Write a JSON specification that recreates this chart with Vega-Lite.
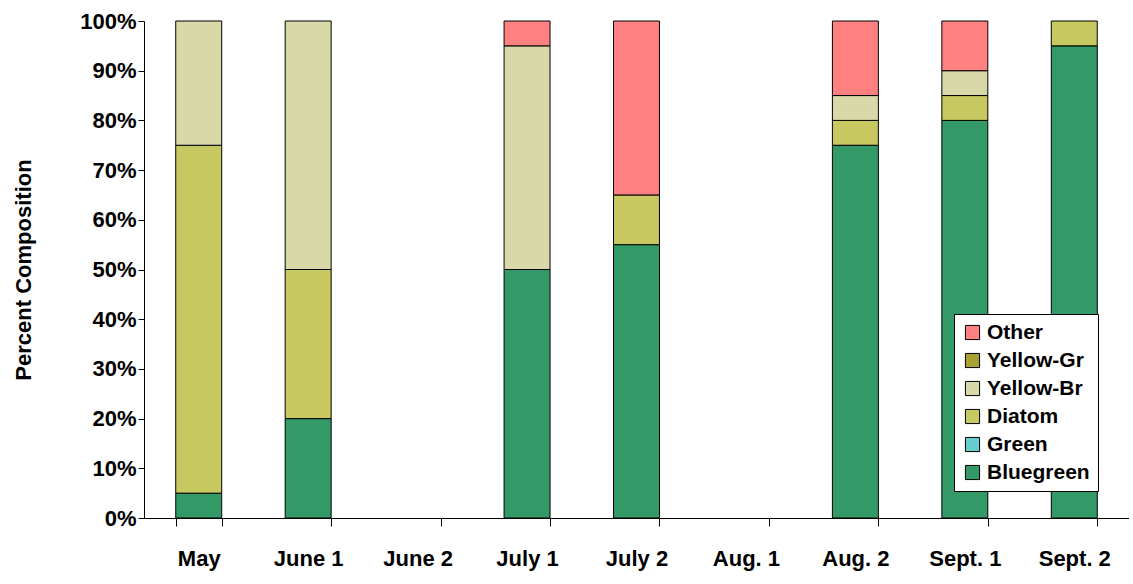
{
  "$schema": "https://vega.github.io/schema/vega-lite/v6.json",
  "width": 985,
  "height": 497,
  "padding": {"left": 12, "top": 10, "right": 0, "bottom": 5},
  "config": {"font": "Liberation Sans", "view": {"stroke": null}},
  "data": {
    "values": [
      {"period": "May", "group": "Bluegreen", "pct": 5},
      {"period": "May", "group": "Diatom", "pct": 70},
      {"period": "May", "group": "Yellow-Br", "pct": 25},
      {"period": "June 1", "group": "Bluegreen", "pct": 20},
      {"period": "June 1", "group": "Diatom", "pct": 30},
      {"period": "June 1", "group": "Yellow-Br", "pct": 50},
      {"period": "July 1", "group": "Bluegreen", "pct": 50},
      {"period": "July 1", "group": "Yellow-Br", "pct": 45},
      {"period": "July 1", "group": "Other", "pct": 5},
      {"period": "July 2", "group": "Bluegreen", "pct": 55},
      {"period": "July 2", "group": "Diatom", "pct": 10},
      {"period": "July 2", "group": "Other", "pct": 35},
      {"period": "Aug. 2", "group": "Bluegreen", "pct": 75},
      {"period": "Aug. 2", "group": "Diatom", "pct": 5},
      {"period": "Aug. 2", "group": "Yellow-Br", "pct": 5},
      {"period": "Aug. 2", "group": "Other", "pct": 15},
      {"period": "Sept. 1", "group": "Bluegreen", "pct": 80},
      {"period": "Sept. 1", "group": "Diatom", "pct": 5},
      {"period": "Sept. 1", "group": "Yellow-Br", "pct": 5},
      {"period": "Sept. 1", "group": "Other", "pct": 10},
      {"period": "Sept. 2", "group": "Bluegreen", "pct": 95},
      {"period": "Sept. 2", "group": "Diatom", "pct": 5}
    ]
  },
  "transform": [
    {"calculate": "indexof(['Bluegreen','Green','Diatom','Yellow-Br','Yellow-Gr','Other'], datum.group)", "as": "ord"}
  ],
  "mark": {"type": "bar", "stroke": "black", "strokeWidth": 1},
  "encoding": {
    "x": {
      "field": "period", "type": "nominal",
      "sort": ["May", "June 1", "June 2", "July 1", "July 2", "Aug. 1", "Aug. 2", "Sept. 1", "Sept. 2"],
      "scale": {"domain": ["May", "June 1", "June 2", "July 1", "July 2", "Aug. 1", "Aug. 2", "Sept. 1", "Sept. 2"], "paddingInner": 0.58, "paddingOuter": 0.29},
      "title": null,
      "axis": {"labelAngle": 0, "labelFontSize": 22, "labelFontWeight": "bold", "labelColor": "black", "labelPadding": 22, "domainColor": "black", "tickColor": "black", "tickBand": "extent", "tickSize": 8}
    },
    "y": {
      "field": "pct", "type": "quantitative", "stack": "zero",
      "scale": {"domain": [0, 100]},
      "title": "Percent Composition",
      "axis": {"values": [0,10,20,30,40,50,60,70,80,90,100], "labelExpr": "datum.value + '%'", "labelFontSize": 22, "labelFontWeight": "bold", "labelColor": "black", "titleFontSize": 22, "titleFontWeight": "bold", "titleColor": "black", "titlePadding": 44, "grid": false, "domainColor": "black", "tickColor": "black", "tickSize": 6}
    },
    "order": {"field": "ord", "type": "quantitative"},
    "color": {
      "field": "group", "type": "nominal",
      "scale": {
        "domain": ["Other", "Yellow-Gr", "Yellow-Br", "Diatom", "Green", "Bluegreen"],
        "range": ["#ff8080", "#a8a030", "#d8d8a8", "#c8c860", "#66cccc", "#339966"]
      },
      "legend": {
        "title": null, "orient": "none", "legendX": 810, "legendY": 293,
        "labelFontSize": 21, "labelFontWeight": "bold", "labelColor": "black",
        "symbolType": "square", "symbolSize": 200, "symbolStrokeColor": "black", "symbolStrokeWidth": 1,
        "strokeColor": "black", "fillColor": "white", "padding": 8, "rowPadding": 6
      }
    }
  }
}
